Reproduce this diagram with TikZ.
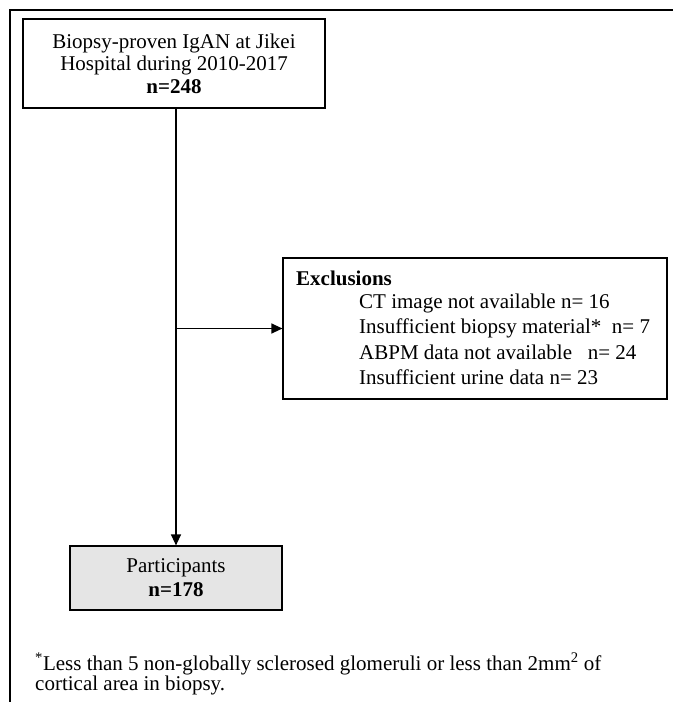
\documentclass[tikz,border=0pt]{standalone}
\usepackage{fontspec}
\setmainfont{Liberation Serif}
\usetikzlibrary{arrows.meta}
\begin{document}
\begin{tikzpicture}[x=1pt,y=-1pt,
  box/.style={draw=black, line width=1.2pt, inner sep=0pt},
  maintext/.style={font=\fontsize{21}{22.5}\selectfont, align=center},
  extext/.style={anchor=west, inner sep=0pt, font=\fontsize{21}{22}\selectfont},
  conn/.style={line width=1.3pt, -{Triangle[length=11pt,width=10pt]}}]
\useasboundingbox (0,0) rectangle (673,702);
% outer frame (left and top)
\coordinate (fA) at (10,702);
\coordinate (fB) at (10,10);
\coordinate (fC) at (673,10);
\draw[line width=2.2pt] (fA) -- (fB) -- (fC);
% top box
\node[box, maintext, minimum width=302pt, minimum height=89pt] (top) at (174,63.5)
  {Biopsy-proven IgAN at Jikei\\Hospital during 2010-2017\\\textbf{n=248}};
% exclusions box
\node[box, minimum width=384pt, minimum height=141pt] (excl) at (475,328.5) {};
\node[extext] (exh) at (296,278) {\textbf{Exclusions}};
\node[extext] (ex1) at (359,303) {CT image not available n= 16};
\node[extext] (ex2) at (359,328) {Insufficient biopsy material*\ \ n= 7};
\node[extext] (ex3) at (359,352) {ABPM data not available\ \ \ n= 24};
\node[extext] (ex4) at (359,377) {Insufficient urine data n= 23};
% participants box
\node[box, fill=black!10, font=\fontsize{21}{24}\selectfont, align=center,
  minimum width=212pt, minimum height=64pt] (part) at (176,578)
  {Participants\\\textbf{n=178}};
% connectors
\draw[conn] (top.south -| part.north) -- (part.north);
\draw[conn] (part.north |- excl.west) -- (excl.west);
% footnote
\node[anchor=west, inner sep=0pt, align=left, font=\fontsize{21}{18.5}\selectfont] (foot) at (35,674)
  {\textsuperscript{*}Less than 5 non-globally sclerosed glomeruli or less than 2mm\textsuperscript{2} of\\cortical area in biopsy.};
\end{tikzpicture}
\end{document}
